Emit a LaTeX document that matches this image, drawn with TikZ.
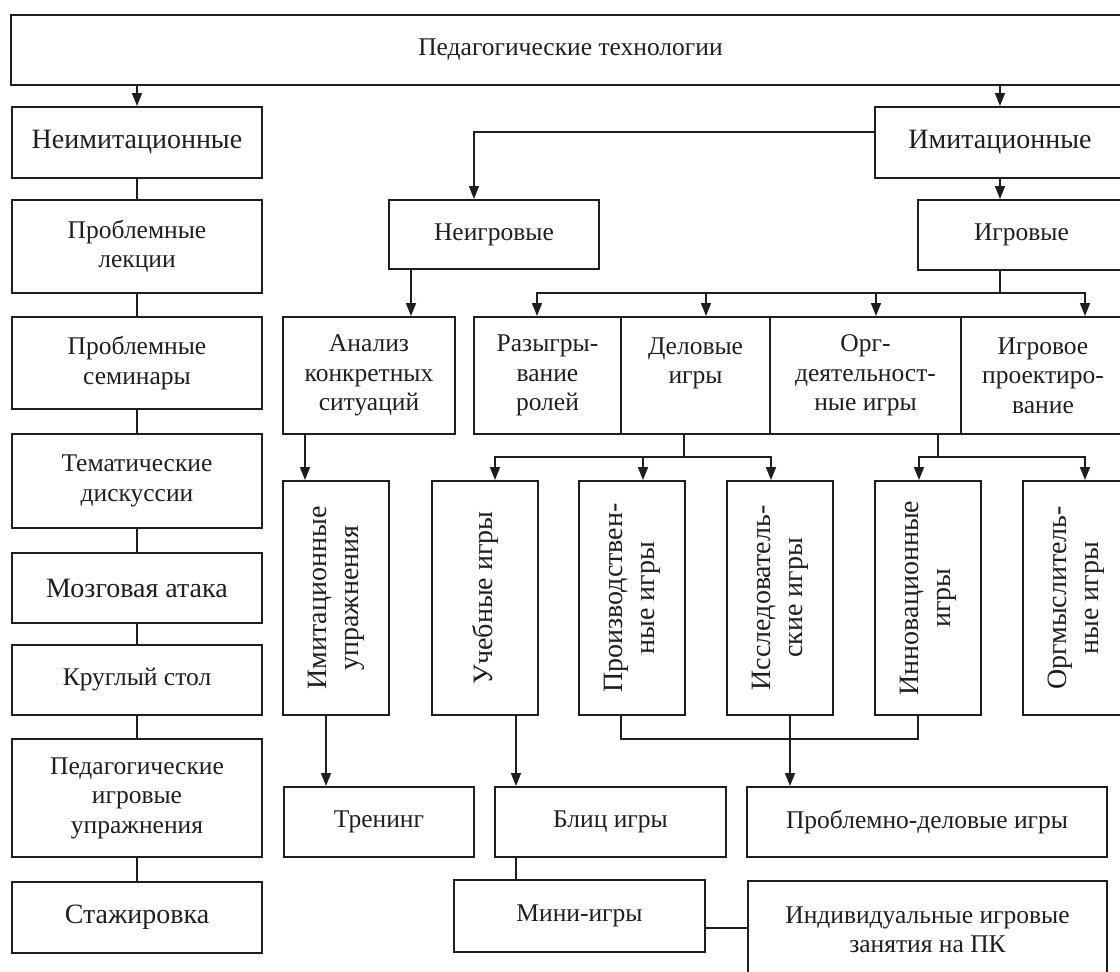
\documentclass[tikz,border=0pt]{standalone}
\usepackage{fontspec}
\setmainfont{Liberation Serif}
\usetikzlibrary{arrows.meta}
\definecolor{ink}{HTML}{1E1E1E}
\tikzset{
  box/.style={draw=ink, line width=2pt, inner sep=0pt, align=center,
    font=\fontsize{25.5}{29.5}\selectfont, text=ink},
  big/.style={font=\fontsize{28}{31}\selectfont},
  vtext/.style={rotate=90, align=center, inner sep=0pt,
    font=\fontsize{28}{32}\selectfont, text=ink},
  ln/.style={draw=ink, line width=1.6pt},
  arr/.style={ln, -{Triangle[length=13pt,width=10pt]}},
}
\begin{document}
\begin{tikzpicture}[x=1pt,y=-1pt]
\useasboundingbox (0,0) rectangle (1120,972);
\clip (0,0) rectangle (1120,972);
% top
\node[box, minimum width=1119pt, minimum height=70pt] (top) at (570.5,50) {Педагогические технологии};
% left column
\node[box, big, minimum width=250pt, minimum height=71pt] (neim) at (137,142.5) {Неимитационные};
\node[box, minimum width=250pt, minimum height=93pt] (pl) at (137,246.5) {Проблемные\\лекции};
\node[box, minimum width=250pt, minimum height=92pt] (ps) at (137,363) {Проблемные\\семинары};
\node[box, minimum width=250pt, minimum height=94pt] (td) at (137,481) {Тематические\\дискуссии};
\node[box, big, minimum width=250pt, minimum height=70pt] (ma) at (137,588) {Мозговая атака};
\node[box, minimum width=250pt, minimum height=70pt] (ks) at (137,680) {Круглый стол};
\node[box, minimum width=250pt, minimum height=118pt] (pig) at (137,798) {Педагогические\\игровые\\упражнения};
\node[box, big, minimum width=250pt, minimum height=71pt] (st) at (137,917.5) {Стажировка};
% right part
\node[box, big, minimum width=250pt, minimum height=71pt] (im) at (1000,142.5) {Имитационные};
\node[box, minimum width=210pt, minimum height=69pt] (neig) at (494,234.5) {Неигровые};
\node[box, minimum width=207pt, minimum height=70pt] (ig) at (1021.5,235) {Игровые};
\node[box, minimum width=172pt, minimum height=117pt] (an) at (369,375.5) {Анализ\\конкретных\\ситуаций};
\node[box, minimum width=147pt, minimum height=117pt] (rr) at (547.5,375.5) {Разыгры-\\вание\\ролей};
\node[box, minimum width=149pt, minimum height=117pt] (dg) at (695.5,375.5) {Деловые\\игры\\\mbox{}};
\node[box, minimum width=191pt, minimum height=117pt] (od) at (865.5,375.5) {Орг-\\деятельност-\\ные игры};
\node[box, minimum width=164pt, minimum height=117pt] (ip) at (1043,375.5) {Игровое\\проектиро-\\вание};
% vertical boxes
\node[box, minimum width=106pt, minimum height=234pt, label={[vtext]center:Имитационные\\упражнения}] (iu) at (336,598) {};
\node[box, minimum width=106pt, minimum height=234pt, label={[vtext]center:Учебные игры}] (ui) at (485,598) {};
\node[box, minimum width=106pt, minimum height=234pt, label={[vtext]center:Производствен-\\ные игры}] (pi) at (632,598) {};
\node[box, minimum width=106pt, minimum height=234pt, label={[vtext]center:Исследователь-\\ские игры}] (isg) at (780,598) {};
\node[box, minimum width=106pt, minimum height=234pt, label={[vtext]center:Инновационные\\игры}] (ing) at (928,598) {};
\node[box, minimum width=106pt, minimum height=234pt, label={[vtext]center:Оргмыслитель-\\ные игры}] (og) at (1076,598) {};
% bottom
\node[box, minimum width=190pt, minimum height=70pt] (tr) at (379,822) {Тренинг};
\node[box, minimum width=231pt, minimum height=70pt] (bl) at (610.5,822) {Блиц игры};
\node[box, minimum width=360pt, minimum height=70pt] (pd) at (927,822) {Проблемно-деловые игры};
\node[box, minimum width=251pt, minimum height=72pt] (mi) at (579.5,916) {Мини-игры};
\node[box, minimum width=359pt, minimum height=98pt] (ind) at (927.5,930) {Индивидуальные игровые\\занятия на ПК};
% connectors: top level
\draw[arr] (top.south -| neim.north) -- (neim.north);
\draw[arr] (top.south -| im.north) -- (im.north);
% left column chain
\draw[ln] (neim.south) -- (pl.north);
\draw[ln] (pl.south) -- (ps.north);
\draw[ln] (ps.south) -- (td.north);
\draw[ln] (td.south) -- (ma.north);
\draw[ln] (ma.south) -- (ks.north);
\draw[ln] (ks.south) -- (pig.north);
\draw[ln] (pig.south) -- (st.north);
% imitational branch
\coordinate (n1) at ([xshift=-20pt]neig.north);
\draw[arr] ([yshift=10.5pt]im.west) -| (n1);
\draw[arr] (im.south) -- (im.south |- ig.north);
\coordinate (n2) at ([xshift=-83pt]neig.south);
\draw[arr] (n2) -- (n2 |- an.north);
% game row bus
\coordinate (b1) at (1000,293);
\draw[ln] (im.south |- ig.south) -- (b1);
\draw[arr] (b1) -| ([xshift=-10.5pt]rr.north);
\draw[arr] (b1) -| ([xshift=10.5pt]dg.north);
\draw[arr] (b1) -| ([xshift=10.5pt]od.north);
\draw[arr] (b1) -| ([xshift=42pt]ip.north);
% analysis -> exercises
\draw[arr] ([xshift=-64pt]an.south) -- ([xshift=-31pt]iu.north);
% business games bus
\coordinate (b2) at (684,457);
\draw[ln] ([xshift=-11.5pt]dg.south) -- (b2);
\draw[arr] (b2) -| ([xshift=10pt]ui.north);
\draw[arr] (b2) -| ([xshift=11pt]pi.north);
\draw[arr] (b2) -| ([xshift=-9pt]isg.north);
% org games bus
\coordinate (b3) at (938,457);
\draw[ln] ([xshift=72.5pt]od.south) -- (b3);
\draw[arr] (b3) -| ([xshift=-9pt]ing.north);
\draw[arr] (b3) -| ([xshift=9pt]og.north);
% lower level
\draw[arr] ([xshift=-10pt]iu.south) -- ([xshift=-53pt]tr.north);
\draw[arr] ([xshift=31pt]ui.south) -- ([xshift=-94.5pt]bl.north);
\coordinate (b4) at (790,739);
\draw[ln] ([xshift=-11pt]pi.south) |- (b4) -| ([xshift=-10pt]ing.south);
\coordinate (c1) at ([xshift=10pt]isg.south);
\draw[arr] (c1) -- (c1 |- pd.north);
\draw[ln] ([xshift=-94.5pt]bl.south) -- ([xshift=-63.5pt]mi.north);
\draw[ln] ([yshift=-12pt]mi.east) -- ([yshift=-12pt]mi.east -| ind.west);
\end{tikzpicture}
\end{document}
